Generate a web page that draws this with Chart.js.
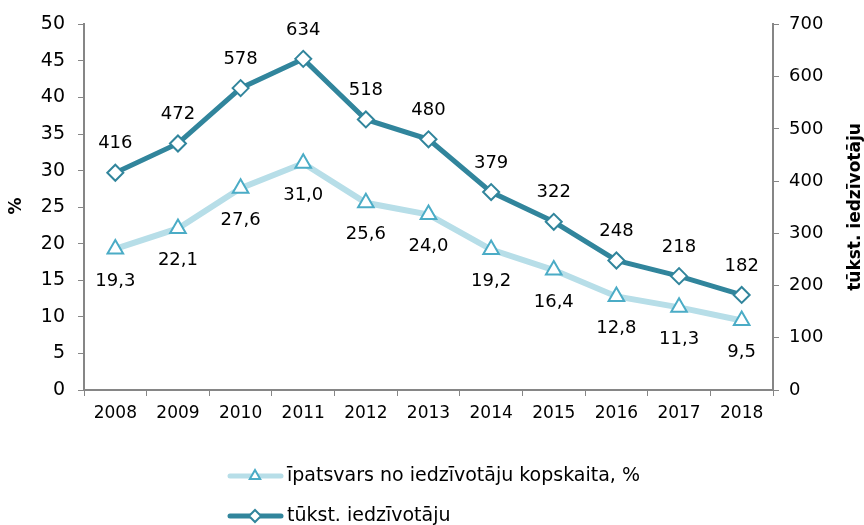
<!DOCTYPE html>
<html><head><meta charset="utf-8">
<script src="https://cdn.jsdelivr.net/npm/chart.js@4"></script>
<style>html,body{margin:0;padding:0;background:#fff}#w{width:864px;height:525px;position:relative}</style>
</head><body><div id="w"><canvas id="c" width="864" height="525"></canvas></div>
<script>
const years = ['2008','2009','2010','2011','2012','2013','2014','2015','2016','2017','2018'];
const sharePct = [19.3,22.1,27.6,31.0,25.6,24.0,19.2,16.4,12.8,11.3,9.5];
const thousands = [416,472,578,634,518,480,379,322,248,218,182];
const shareLabel = 'īpatsvars no iedzīvotāju kopskaita, %';
const thousLabel = 'tūkst. iedzīvotāju';
const leftTitle = '%';
const rightTitle = 'tūkst. iedzīvotāju';

const FONT = '"DejaVu Sans", Verdana, sans-serif';
const DARK = '#31859C', LIGHT = '#B7DEE8', LIGHTM = '#4BACC6';

const labelsPlugin = {
  id: 'labels',
  afterDatasetsDraw(chart) {
    const ctx = chart.ctx;
    ctx.save();
    ctx.font = '18px ' + FONT;
    ctx.fillStyle = '#000';
    ctx.textAlign = 'center';
    ctx.textBaseline = 'middle';
    chart.getDatasetMeta(0).data.forEach((p, i) => {
      ctx.fillText(sharePct[i].toFixed(1).replace('.', ','), p.x, p.y + 32);
    });
    chart.getDatasetMeta(1).data.forEach((p, i) => {
      ctx.fillText(String(thousands[i]), p.x, p.y - 29);
    });
    ctx.restore();
  },
  afterDraw(chart) {
    const ctx = chart.ctx;
    ctx.save();
    ctx.fillStyle = '#000';
    ctx.font = 'bold 17px ' + FONT;
    ctx.textAlign = 'center';
    ctx.textBaseline = 'middle';
    ctx.translate(17, 206); ctx.rotate(-Math.PI/2); ctx.fillText(leftTitle, 0, 0);
    ctx.setTransform(1,0,0,1,0,0);
    ctx.translate(856, 207); ctx.rotate(-Math.PI/2); ctx.fillText(rightTitle, 0, 0);
    ctx.setTransform(1,0,0,1,0,0);
    // legend
    const items = [
      {y: 476, color: LIGHT, mk: LIGHTM, style: 'triangle', text: shareLabel},
      {y: 516, color: DARK, mk: DARK, style: 'rectRot', text: thousLabel}
    ];
    items.forEach(it => {
      ctx.strokeStyle = it.color; ctx.lineWidth = 5; ctx.lineCap = 'round';
      ctx.beginPath(); ctx.moveTo(230, it.y); ctx.lineTo(281, it.y); ctx.stroke();
      ctx.fillStyle = '#fff'; ctx.strokeStyle = it.mk; ctx.lineWidth = 2;
      Chart.helpers.drawPoint(ctx, {pointStyle: it.style, radius: 6, borderWidth: 2, rotation: 0}, 255, it.y);
      ctx.fillStyle = '#000';
      ctx.font = '19px ' + FONT;
      ctx.textAlign = 'left';
      ctx.fillText(it.text, 287, it.y);
    });
    ctx.restore();
  }
};

new Chart(document.getElementById('c'), {
  type: 'line',
  data: {
    labels: years,
    datasets: [
      {label: shareLabel, data: sharePct, yAxisID: 'y', borderColor: LIGHT, borderWidth: 6,
       pointStyle: 'triangle', pointRadius: 9, pointBorderWidth: 2, pointBackgroundColor: '#fff',
       pointBorderColor: LIGHTM, tension: 0, order: 2},
      {label: thousLabel, data: thousands, yAxisID: 'y1', borderColor: DARK, borderWidth: 5,
       pointStyle: 'rectRot', pointRadius: 8, pointBorderWidth: 2, pointBackgroundColor: '#fff',
       pointBorderColor: DARK, tension: 0, order: 1}
    ]
  },
  options: {
    responsive: false, animation: false, devicePixelRatio: 1,
    layout: {padding: {top: 23, left: 0, right: 0, bottom: 0}},
    plugins: {legend: {display: false}, tooltip: {enabled: false}},
    scales: {
      x: {
        offset: true,
        grid: {display: true, drawOnChartArea: false, drawTicks: true, tickLength: 6, offset: true, color: '#868686'},
        border: {color: '#868686', width: 2},
        ticks: {color: '#000', font: {family: FONT, size: 17}, padding: 7, maxRotation: 0},
        afterFit(s) { s.height = 135; }
      },
      y: {
        position: 'left', min: 0, max: 50,
        ticks: {stepSize: 5, color: '#000', font: {family: FONT, size: 19}, padding: 13},
        grid: {drawOnChartArea: false, drawTicks: true, tickLength: 6, color: '#868686'},
        border: {color: '#868686', width: 2},
        afterFit(s) { s.width = 84; }
      },
      y1: {
        position: 'right', min: 0, max: 700,
        ticks: {stepSize: 100, color: '#000', font: {family: FONT, size: 18}, padding: 10},
        grid: {drawOnChartArea: false, drawTicks: true, tickLength: 6, color: '#868686'},
        border: {color: '#868686', width: 2},
        afterFit(s) { s.width = 91; }
      }
    }
  },
  plugins: [labelsPlugin]
});
</script>
</body></html>
